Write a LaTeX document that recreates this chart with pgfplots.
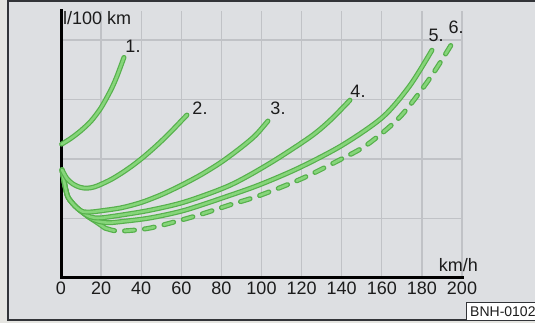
\documentclass[border=0pt]{standalone}
\usepackage{fontspec}
\setmainfont{Liberation Sans}
\usepackage{pgfplots}
\usepackage{pgfplotstable}
\pgfplotsset{compat=1.18}
\definecolor{bgin}{RGB}{221,223,226}
\definecolor{bgout}{RGB}{229,229,225}
\definecolor{framec}{RGB}{50,52,56}
\definecolor{gridc}{RGB}{192,194,198}
\definecolor{gdark}{RGB}{86,176,76}
\definecolor{glight}{RGB}{134,213,122}
\definecolor{txt}{RGB}{28,28,28}
\pgfplotsset{
  tubeo/.style={line width=5pt, color=gdark, line cap=round, line join=round, smooth, no markers},
  tubei/.style={line width=2.6pt, color=glight, line cap=round, line join=round, smooth, no markers},
  dsh/.style={dash pattern=on 10pt off 10pt},
}
\pgfplotstableread{
x y
0.3 2.25
5 2.35
10 2.48
15 2.64
20 2.865
25 3.17
28 3.40
31.4 3.71
}\curveA
\pgfplotstableread{
x y
0.5 1.82
3 1.67
6 1.58
9.5 1.525
13 1.51
16.5 1.53
20 1.576
25 1.657
30 1.759
35 1.874
40 2.003
45 2.146
50 2.30
55 2.466
60 2.642
62.8 2.74
}\curveB
\pgfplotstableread{
x y
0.5 1.82
2 1.55
3.5 1.36
7 1.21
10.5 1.12
15 1.11
20 1.13
30 1.18
40 1.27
50 1.40
60 1.56
70 1.74
80 1.95
90 2.20
97 2.40
103.2 2.64
}\curveC
\pgfplotstableread{
x y
0.5 1.82
2 1.55
3.5 1.36
7 1.21
10.5 1.11
14.5 1.03
19.5 1.01
30.4 1.06
44.4 1.14
61.8 1.28
84.3 1.56
104.2 1.93
124.2 2.37
134.2 2.65
144.1 2.99
}\curveD
\pgfplotstableread{
x y
0.5 1.82
2 1.55
3.5 1.36
7 1.21
10.5 1.11
14.5 1.01
19 0.95
24 0.93
30.4 0.95
44.4 1.01
61.8 1.14
84.3 1.39
100 1.58
119.2 1.86
140.6 2.24
160.6 2.71
174.1 3.24
185.0 3.83
}\curveE
\pgfplotstableread{
x y
0.5 1.82
2 1.55
3.5 1.36
7 1.21
10.5 1.11
14.5 1.01
18.5 0.92
21.9 0.84
}\curveFa
\pgfplotstableread{
x y
21.9 0.84
26 0.80
30.4 0.79
44.4 0.84
65.8 1.03
84.3 1.23
99.3 1.39
120.7 1.68
139.2 1.99
152.6 2.24
169.1 2.71
184.0 3.36
195.5 3.97
}\curveFb
\begin{document}
\begin{tikzpicture}
\useasboundingbox (0pt,0pt) rectangle (535pt,323pt);
\fill[bgout] (0pt,0pt) rectangle (535pt,323pt);
\fill[bgin] (8pt,3pt) rectangle (545pt,322pt);
\draw[framec, line width=2pt] (8pt,3pt) rectangle (545pt,322pt);
\begin{axis}[
  at={(61pt,45pt)}, anchor=south west, scale only axis,
  width=401pt, height=267pt,
  xmin=0, xmax=200, ymin=0, ymax=4.49,
  axis x line*=bottom, axis y line*=left,
  axis line style={-, line width=3pt, black, line cap=rect},
  xtick={0,20,...,200}, ytick={1,2,3,4}, yticklabels={},
  major tick length=0pt,
  grid=major, major grid style={gridc, line width=1.3pt},
  tick label style={font=\fontsize{18}{20}\selectfont, text=txt},
  /pgf/number format/assume math mode=true,
  clip=false,
]
% 6 dashed
\addplot[tubeo] table {\curveFa};
\addplot[tubeo,dsh] table {\curveFb};
\addplot[tubei] table {\curveFa};
\addplot[tubei,dsh] table {\curveFb};
% 5
\addplot[tubeo] table {\curveE};
\addplot[tubei] table {\curveE};
% 4
\addplot[tubeo] table {\curveD};
\addplot[tubei] table {\curveD};
% 3
\addplot[tubeo] table {\curveC};
\addplot[tubei] table {\curveC};
% 2
\addplot[tubeo] table {\curveB};
\addplot[tubei] table {\curveB};
% 1
\addplot[tubeo] table {\curveA};
\addplot[tubei] table {\curveA};
\end{axis}
\begin{scope}[every node/.style={inner sep=0pt, text=txt, font=\fontsize{18}{20}\selectfont}]
\node[anchor=base west] at (63pt,298pt) {l/100 km};
\node[anchor=base east] at (478pt,51pt) {km/h};
\node at (133pt,277pt) {1.};
\node at (200pt,215pt) {2.};
\node at (278pt,215pt) {3.};
\node at (358pt,232pt) {4.};
\node at (436pt,288pt) {5.};
\node at (456pt,296pt) {6.};
\end{scope}
\draw[framec, line width=0.8pt, fill=white] (466pt,3pt) rectangle (545pt,21pt);
\node[anchor=base west, inner sep=0pt, text=txt, font=\fontsize{14}{16}\selectfont] at (470pt,6.5pt) {BNH-0102};
\end{tikzpicture}
\end{document}
